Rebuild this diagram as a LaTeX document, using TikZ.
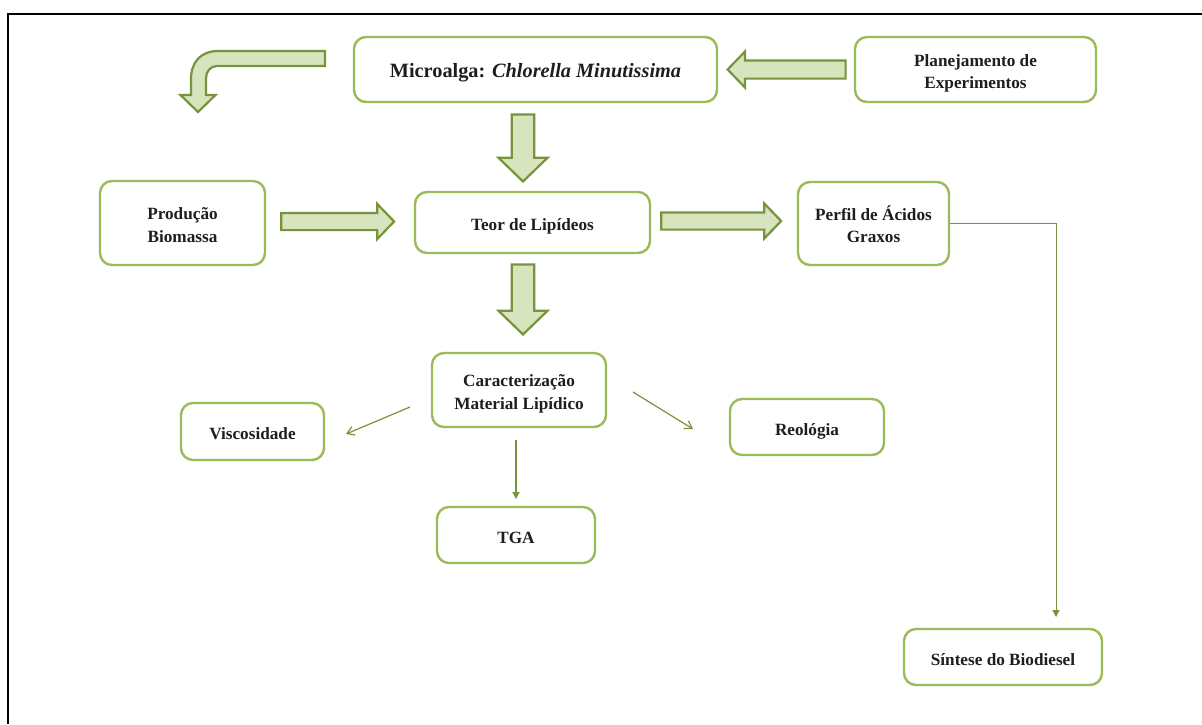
\documentclass[tikz,border=0pt]{standalone}
\usepackage{fontspec}
\setmainfont{Liberation Serif}
\usetikzlibrary{shapes.arrows,arrows.meta,calc}
\definecolor{boxgreen}{HTML}{9BBB59}
\definecolor{arrowfill}{HTML}{D7E4BD}
\definecolor{arrowline}{HTML}{77933C}
\definecolor{txt}{HTML}{1E1E1E}
% centred label, set a little below the box centre
\newcommand{\boxlabel}[1]{\raisebox{-3.5pt}[\height][\depth]{\begin{tabular}{@{}c@{}}#1\end{tabular}}}
\begin{document}
\begin{tikzpicture}[x=1pt,y=-1pt,
  stepbox/.style={draw=boxgreen,line width=2.4pt,rounded corners=12pt,fill=white,
    align=center,text=txt,font=\fontsize{17.2}{22.5}\selectfont\bfseries,inner sep=0pt},
  blockarrow/.style={single arrow,draw=arrowline,fill=arrowfill,line width=2.2pt,
    single arrow head extend=#1,inner sep=0pt,single arrow tip angle=92},
  thinarrow/.style={draw=arrowline,line width=1.2pt},
  openhead/.style={-{Straight Barb[length=7pt,width=9pt,line width=1.2pt]}},
  solidhead/.style={-{Triangle[length=7pt,width=7pt]}}]
\useasboundingbox (0,0) rectangle (1202,724);
% frame lines
\draw[line width=2pt,black] (8,724) -- (8,14) -- (1202,14);

% process boxes
\node[stepbox,minimum width=363,minimum height=65,font=\fontsize{20.3}{24}\selectfont\bfseries]
  (micro) at (535.5,69.5) {\boxlabel{Microalga: \textit{Chlorella Minutissima}}};
\node[stepbox,minimum width=241,minimum height=65] (plan) at (975.5,69.5) {\boxlabel{Planejamento de\\Experimentos}};
\node[stepbox,minimum width=165,minimum height=84] (prod) at (182.5,223) {\boxlabel{Produção\\Biomassa}};
\node[stepbox,minimum width=235,minimum height=61] (teor) at (532.5,222.5) {\boxlabel{Teor de Lipídeos}};
\node[stepbox,minimum width=151,minimum height=83] (perfil) at (873.5,223.5) {\boxlabel{Perfil de Ácidos\\Graxos}};
\node[stepbox,minimum width=174,minimum height=74] (carac) at (519,390) {\boxlabel{Caracterização\\Material Lipídico}};
\node[stepbox,minimum width=143,minimum height=57] (visc) at (252.5,431.5) {\boxlabel{Viscosidade}};
\node[stepbox,minimum width=154,minimum height=56] (reol) at (807,427) {\boxlabel{Reológia}};
\node[stepbox,minimum width=158,minimum height=56] (tga) at (516,535) {\boxlabel{TGA}};
\node[stepbox,minimum width=198,minimum height=56] (sint) at (1003,657) {\boxlabel{Síntese do Biodiesel}};

% block arrows
\node[blockarrow=9pt,minimum height=118,minimum width=36,shape border rotate=180,
  text height=16pt] (a1) at (791,69.5) {};
\node[blockarrow=13pt,minimum height=67,minimum width=49,shape border rotate=270,
  text width=20pt] (a2) at (523,142.5) {};
\node[blockarrow=13pt,minimum height=70,minimum width=49,shape border rotate=270,
  text width=20pt] (a3) at (523,294) {};
\node[blockarrow=9pt,minimum height=113,minimum width=35,
  text height=15pt] (a4) at (333.5,221.5) {};
\node[blockarrow=9pt,minimum height=120,minimum width=35,
  text height=15pt] (a5) at (717,221) {};

% bent arrow leaving the top box
\draw[draw=arrowline,fill=arrowfill,line width=2.2pt,line join=miter]
  (325,51) -- (218,51) .. controls (201,51) and (191,62) .. (191,79)
  -- (191,95) -- (180.5,95) -- (198,112) -- (215.5,95) -- (206,95) -- (206,78)
  .. controls (206,71.5) and (210.5,66) .. (217,66) -- (325,66) -- cycle;

% thin connectors
\coordinate (cv1) at (410,407);
\coordinate (cv2) at (346,434);
\coordinate (ct1) at (516,440);
\coordinate (ct2) at (516,499);
\coordinate (cr1) at (633,392);
\coordinate (cr2) at (693,429);
\coordinate (bend) at (1056,223);
\coordinate (send) at (1056,617);
\draw[thinarrow,openhead] (cv1) -- (cv2);
\draw[thinarrow,solidhead] (ct1) -- (ct2);
\draw[thinarrow,openhead] (cr1) -- (cr2);
\draw[thinarrow,line width=1pt,solidhead] (perfil.east |- bend) -- (bend) -- (send);
\end{tikzpicture}
\end{document}
